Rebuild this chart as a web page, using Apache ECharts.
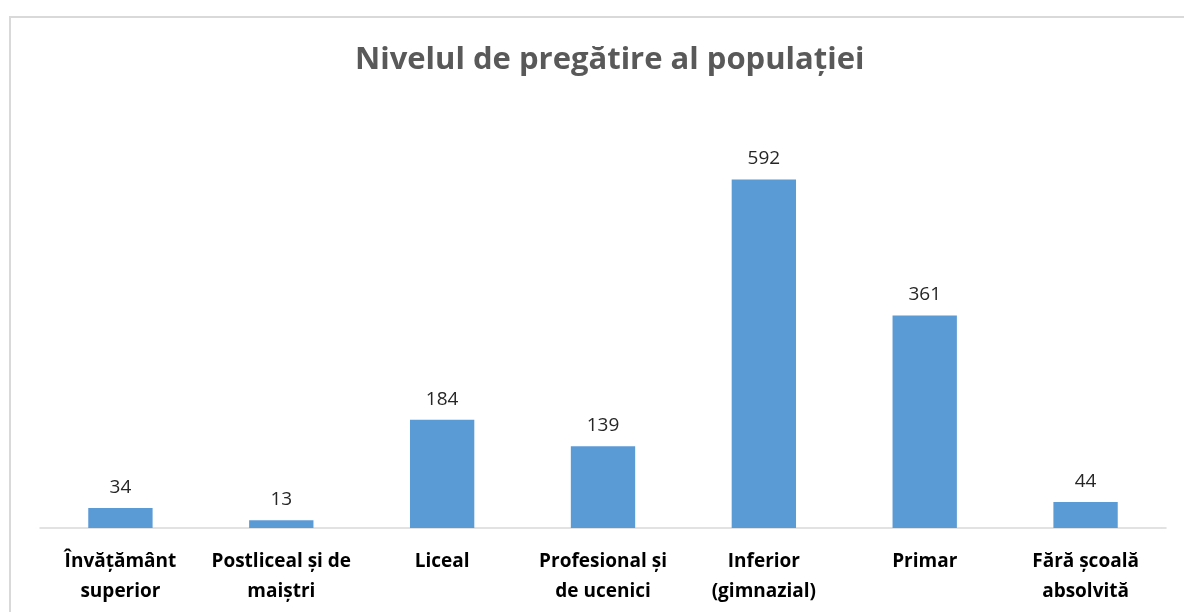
<!DOCTYPE html>
<html>
<head>
<meta charset="utf-8">
<script src="https://cdn.jsdelivr.net/npm/echarts@6/dist/echarts.min.js"></script>
<style>
  html, body { margin: 0; padding: 0; background: #fff; }
  #chart { width: 1184px; height: 612px; }
</style>
</head>
<body>
<div id="chart"></div>
<script>
const categories = [
  'Învățământ\nsuperior',
  'Postliceal și de\nmaiștri',
  'Liceal',
  'Profesional și\nde ucenici',
  'Inferior\n(gimnazial)',
  'Primar',
  'Fără școală\nabsolvită'
];
const values = [34, 13, 184, 139, 592, 361, 44];

const chart = echarts.init(document.getElementById('chart'));

const option = {
  backgroundColor: '#fff',
  animation: false,
  graphic: [
    {
      type: 'rect',
      shape: { x: 10, y: 17, width: 1200, height: 700 },
      style: { fill: 'none', stroke: '#d9d9d9', lineWidth: 2 }
    }
  ],
  title: {
    text: 'Nivelul de pregătire al populației',
    left: 350,
    top: 40,
    textStyle: {
      fontFamily: 'Open Sans',
      fontWeight: 'bold',
      fontSize: 31,
      color: '#595959'
    }
  },
  grid: { left: 40, right: 18, top: 116, bottom: 84 },
  xAxis: {
    type: 'category',
    data: categories,
    axisLine: { lineStyle: { color: '#d9d9d9', width: 1.5 } },
    axisTick: { show: false },
    axisLabel: {
      interval: 0,
      margin: 19,
      fontFamily: 'Open Sans',
      fontWeight: 'bold',
      fontSize: 19,
      lineHeight: 30,
      color: '#000'
    }
  },
  yAxis: {
    type: 'value',
    min: 0,
    max: 700,
    show: false,
    splitLine: { show: false }
  },
  series: [
    {
      type: 'bar',
      data: values,
      barWidth: '40%',
      itemStyle: { color: '#5b9bd5' },
      label: {
        show: true,
        position: 'top',
        distance: 11,
        fontFamily: 'Open Sans',
        fontSize: 19,
        color: '#262626'
      }
    }
  ]
};

chart.setOption(option);
</script>
</body>
</html>
